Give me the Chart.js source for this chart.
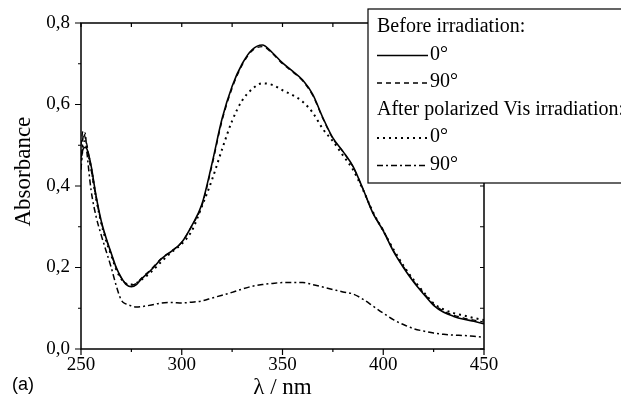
<!DOCTYPE html>
<html>
<head>
<meta charset="utf-8">
<script src="https://cdn.jsdelivr.net/npm/chart.js@4/dist/chart.umd.min.js"></script>
<style>
  body { margin: 0; background: #fff; }
</style>
</head>
<body>
<canvas id="absorbance-chart" width="621" height="411"></canvas>
<script>
const wavelengths = [250, 251, 252, 253, 255, 257.5, 260, 262.5, 265, 267.5, 270, 272.5, 275, 277.5, 280, 285, 290, 295,
  300, 305, 310, 315, 320, 325, 330, 335, 340, 345, 350, 355, 360, 365, 370, 375, 380, 385, 390, 395,
  400, 405, 410, 415, 420, 425, 430, 435, 440, 445, 450];

const before0 = [0.47, 0.49, 0.495, 0.49, 0.45, 0.375, 0.315, 0.272, 0.235, 0.2, 0.175, 0.158, 0.153, 0.158, 0.172, 0.195, 0.222, 0.24,
  0.262, 0.303, 0.355, 0.455, 0.565, 0.645, 0.7, 0.735, 0.746, 0.727, 0.702, 0.682, 0.66, 0.625, 0.568, 0.518,
  0.485, 0.448, 0.392, 0.332, 0.29, 0.24, 0.2, 0.165, 0.135, 0.107, 0.09, 0.08, 0.073, 0.068, 0.062];

const before90 = [0.5, 0.535, 0.52, 0.5, 0.44, 0.37, 0.312, 0.27, 0.233, 0.198, 0.174, 0.16, 0.157, 0.161, 0.174, 0.197, 0.223, 0.241,
  0.262, 0.302, 0.352, 0.45, 0.56, 0.64, 0.697, 0.732, 0.742, 0.725, 0.7, 0.68, 0.658, 0.622, 0.566, 0.516,
  0.484, 0.447, 0.392, 0.333, 0.292, 0.242, 0.202, 0.167, 0.138, 0.11, 0.093, 0.083, 0.076, 0.071, 0.066];

const after0 = [0.45, 0.5, 0.51, 0.49, 0.445, 0.37, 0.31, 0.265, 0.23, 0.195, 0.172, 0.16, 0.158, 0.162, 0.17, 0.19, 0.215, 0.238,
  0.258, 0.29, 0.35, 0.415, 0.49, 0.56, 0.61, 0.638, 0.652, 0.648, 0.635, 0.623, 0.607, 0.58, 0.54, 0.51,
  0.475, 0.44, 0.39, 0.335, 0.29, 0.245, 0.205, 0.17, 0.14, 0.112, 0.097, 0.088, 0.082, 0.076, 0.071];

const after90 = [0.44, 0.52, 0.53, 0.48, 0.39, 0.325, 0.28, 0.24, 0.2, 0.155, 0.12, 0.11, 0.106, 0.103, 0.104, 0.108, 0.113, 0.114,
  0.113, 0.115, 0.118, 0.125, 0.132, 0.139, 0.147, 0.154, 0.158, 0.161, 0.163, 0.163, 0.163, 0.158, 0.152, 0.146,
  0.14, 0.135, 0.122, 0.105, 0.088, 0.072, 0.06, 0.05, 0.044, 0.039, 0.036, 0.034, 0.033, 0.031, 0.029];

const xTicks = [250, 300, 350, 400, 450];
const yTicks = [0, 0.2, 0.4, 0.6, 0.8];

const serif = '"Liberation Serif", "Times New Roman", serif';

function toPoints(values) {
  return values.map((v, i) => ({ x: wavelengths[i], y: v }));
}

const series = [
  { label: '0°', data: before0, dash: [], width: 1.6 },
  { label: '90°', data: before90, dash: [5, 4], width: 1.3 },
  { label: '0°', data: after0, dash: [2, 4], width: 2 },
  { label: '90°', data: after90, dash: [6, 3, 2, 3], width: 1.5 },
];

const data = {
  datasets: series.map(s => ({
    label: s.label,
    data: toPoints(s.data),
    borderColor: '#000',
    borderWidth: s.width,
    borderDash: s.dash,
    pointRadius: 0,
    tension: 0.3,
    cubicInterpolationMode: 'monotone',
    fill: false,
  }))
};

// box, ticks on all four sides and the legend
const framePlugin = {
  id: 'frame',
  afterDraw(chart) {
    const { ctx, chartArea: a, scales: { x, y } } = chart;
    ctx.save();
    ctx.strokeStyle = '#000';
    ctx.lineWidth = 1.5;
    ctx.strokeRect(a.left, a.top, a.right - a.left, a.bottom - a.top);

    ctx.lineWidth = 1.2;
    ctx.beginPath();
    for (let v = 250; v <= 450; v += 25) {
      const px = x.getPixelForValue(v);
      const major = v % 50 === 0;
      ctx.moveTo(px, a.bottom);
      ctx.lineTo(px, a.bottom + (major ? 6 : 3));
      ctx.moveTo(px, a.top);
      ctx.lineTo(px, a.top + 4);
    }
    for (let i = 0; i <= 8; i++) {
      const py = y.getPixelForValue(i / 10);
      const major = i % 2 === 0;
      ctx.moveTo(a.left, py);
      ctx.lineTo(a.left - (major ? 6 : 3), py);
      ctx.moveTo(a.right, py);
      ctx.lineTo(a.right - 4, py);
    }
    ctx.stroke();

    // legend
    const lx = 368, ly = 9, lh = 27.5;
    ctx.fillStyle = '#fff';
    ctx.fillRect(lx, ly, 260, 174);
    ctx.lineWidth = 1.2;
    ctx.strokeRect(lx, ly, 260, 174);
    ctx.fillStyle = '#000';
    ctx.font = '20px ' + serif;
    ctx.textBaseline = 'middle';
    ctx.textAlign = 'left';
    const rows = [
      { text: 'Before irradiation:' },
      { ds: 0 },
      { ds: 1 },
      { text: 'After polarized Vis irradiation:' },
      { ds: 2 },
      { ds: 3 },
    ];
    rows.forEach((r, i) => {
      const cy = ly + 18 + i * lh;
      if (r.text) {
        ctx.fillText(r.text, lx + 9, cy);
      } else {
        const s = series[r.ds];
        ctx.beginPath();
        ctx.lineWidth = s.width;
        ctx.setLineDash(s.dash);
        ctx.moveTo(lx + 9, cy + 1);
        ctx.lineTo(lx + 60, cy + 1);
        ctx.stroke();
        ctx.setLineDash([]);
        ctx.fillText(s.label, lx + 62, cy);
      }
    });

    ctx.font = '18px "Liberation Sans", Arial, sans-serif';
    ctx.fillText('(a)', 12, 385);
    ctx.restore();
  }
};

const options = {
  responsive: false,
  animation: false,
  layout: { padding: { top: 23, right: 137, left: 0, bottom: 0 } },
  scales: {
    x: {
      type: 'linear',
      min: 250,
      max: 450,
      afterFit: s => { s.height = 62; },
      afterBuildTicks: s => { s.ticks = xTicks.map(v => ({ value: v })); },
      grid: { display: false, drawTicks: false },
      border: { display: false },
      ticks: { color: '#000', padding: 5, font: { family: serif, size: 19 } },
      title: {
        display: true,
        text: 'λ / nm',
        color: '#000',
        font: { family: serif, size: 23 },
        padding: { top: 0, bottom: 9 },
      },
    },
    y: {
      min: 0,
      max: 0.8,
      afterFit: s => { s.width = 81; },
      afterBuildTicks: s => { s.ticks = yTicks.map(v => ({ value: v })); },
      grid: { display: false, drawTicks: false },
      border: { display: false },
      ticks: {
        color: '#000',
        padding: 11,
        font: { family: serif, size: 19 },
        callback: v => v.toFixed(1).replace('.', ','),
      },
      title: {
        display: true,
        text: '     Absorbance',
        color: '#000',
        font: { family: serif, size: 23 },
        padding: { top: 10, bottom: 0 },
      },
    },
  },
  plugins: {
    legend: { display: false },
    tooltip: { enabled: false },
  },
};

new Chart(document.getElementById('absorbance-chart').getContext('2d'), {
  type: 'line',
  data: data,
  options: options,
  plugins: [framePlugin],
});
</script>
</body>
</html>
